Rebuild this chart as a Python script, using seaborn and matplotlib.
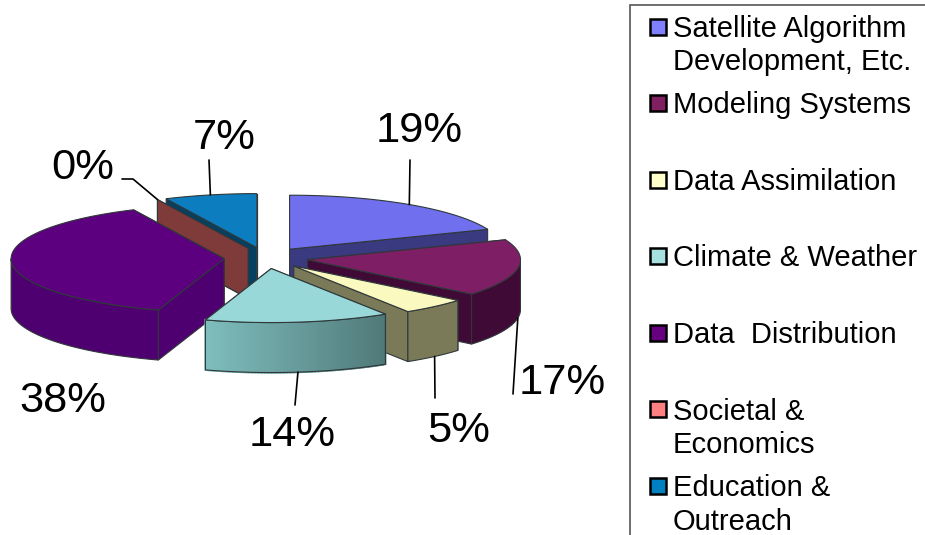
import numpy as np
import matplotlib
matplotlib.use("Agg")
import matplotlib.pyplot as plt
from matplotlib.patches import Patch, Rectangle
from matplotlib.legend_handler import HandlerPatch
from matplotlib.colors import to_rgb
import seaborn as sns

# ---- data ----
categories = ["Satellite Algorithm\nDevelopment, Etc.", "Modeling Systems\n ", "Data Assimilation\n ",
              "Climate & Weather\n ", "Data  Distribution\n ", "Societal &\nEconomics", "Education &\nOutreach"]
shares = [19, 17, 5, 14, 38, 0, 7]
pct_labels = ["19%", "17%", "5%", "14%", "38%", "0%", "7%"]

# ---- styles ----
legend_colors = ["#8080FF", "#802060", "#FFFFCC", "#A6E0E0", "#660080", "#FF8080", "#0080C0"]
top_colors = ["#7070EE", "#7E1F66", "#FAFAC0", "#98D8D8", "#5C0080", "#7F3A3A", "#0C7DBE"]
wall_colors = ["#3A3A80", "#3F0A35", "#7A7A58", "#7FBDBD", "#4E0070", "#7F3A3A", "#064060"]
rim_end_colors = ["#3A3A80", "#3F0A35", "#7A7A58", "#4F7878", "#4E0070", "#7F3A3A", "#064060"]
draw_order = [6, 5, 0, 4, 1, 2, 3]
label_pos = [(419, 131), (562, 383), (459, 431), (292, 435), (63, 401), (83, 168), (224, 138)]
leader_end = [[(410, 160)], [(513, 394)], [(435, 398)], [(295, 405)], [], [(133, 179), (122, 179)], [(209, 160)]]

CX, CY, A, B, DEPTH, EXPLODE = 266, 258, 213, 54, 50, 0.197
EDGE = "#30383A"

sns.set_theme(style="white")
plt.rcParams["font.family"] = ["Liberation Sans", "DejaVu Sans"]
palette = sns.color_palette(legend_colors)

fig = plt.figure(figsize=(9.25, 5.35), dpi=100, facecolor="white")
ax = fig.add_axes([0, 0, 1, 1])
ax.set_xlim(0, 925)
ax.set_ylim(535, 0)
ax.axis("off")

fractions = np.array(shares) / 100.0
ends = np.cumsum(fractions) * 360.0
starts = ends - fractions * 360.0


def rim(ang, ox, oy):
    r = np.radians(ang)
    return ox + A * np.sin(r), oy - B * np.cos(r)


z = 2
apexes = {}
for i in draw_order:
    mid = 0.5 * (starts[i] + ends[i])
    ox, oy = rim(mid, CX, CY)
    ox = CX + (ox - CX) * EXPLODE
    oy = CY + (oy - CY) * EXPLODE
    apexes[i] = (ox, oy)
    # cut faces, the one further back first
    for ang in sorted((starts[i], ends[i]), key=lambda a: rim(a, ox, oy)[1]):
        ex, ey = rim(ang, ox, oy)
        ax.fill([ox, ex, ex, ox], [oy, ey, ey + DEPTH, oy + DEPTH],
                facecolor=wall_colors[i], edgecolor=EDGE, lw=0.8, zorder=z)
        z += 1
    # outer wall (only the part that faces the viewer)
    lo, hi = max(starts[i], 90), min(ends[i], 270)
    if hi > lo:
        angs = np.linspace(lo, hi, 60)
        c0, c1 = np.array(to_rgb(wall_colors[i])), np.array(to_rgb(rim_end_colors[i]))
        xs, ys = rim(angs, ox, oy)
        ax.fill(np.r_[xs, xs[::-1]], np.r_[ys, ys[::-1] + DEPTH],
                facecolor=c0, edgecolor="none", zorder=z)
        z += 1
        if wall_colors[i] != rim_end_colors[i]:
            for k in range(len(angs) - 1):
                t = 1 - (k + 0.5) / (len(angs) - 1)
                col = c0 * (1 - t) + c1 * t
                ax.fill([xs[k], xs[k + 1], xs[k + 1], xs[k]],
                        [ys[k], ys[k + 1], ys[k + 1] + DEPTH, ys[k] + DEPTH],
                        facecolor=col, edgecolor=col, lw=1.5, zorder=z)
            z += 1
        ax.fill(np.r_[xs, xs[::-1]], np.r_[ys, ys[::-1] + DEPTH],
                facecolor="none", edgecolor=EDGE, lw=0.8, zorder=z)
        z += 1
    # top face
    if ends[i] > starts[i]:
        angs = np.linspace(starts[i], ends[i], 80)
        xs, ys = rim(angs, ox, oy)
        ax.fill(np.r_[ox, xs], np.r_[oy, ys], facecolor=top_colors[i],
                edgecolor=EDGE, lw=0.8, zorder=z)
        z += 1

# leader lines and percentage labels
for i, txt in enumerate(pct_labels):
    ox, oy = apexes[i]
    ang = 0.5 * (starts[i] + ends[i])
    ax_x, ax_y = rim(ang, ox, oy)
    if 90 < ang < 270:
        ax_y += DEPTH
    if leader_end[i]:
        pts = [(ax_x, ax_y)] + leader_end[i]
        ax.plot(*zip(*pts), color="black", lw=1.2, zorder=z)
    ax.text(*label_pos[i], txt, fontsize=31.3, color="black", ha="center", va="center", zorder=z + 1)
z += 2


# legend with the swatch beside the first line of each two-line entry
def first_line_swatch(legend, orig_handle, xdescent, ydescent, width, height, fontsize):
    size = 11.5
    return Rectangle((-xdescent + width - size, 15.8), size, size)


handles = [Patch(facecolor=c, edgecolor="black", linewidth=1.8) for c in palette]
leg = ax.legend(handles, categories, loc="upper left", bbox_to_anchor=(630, 5),
                bbox_transform=ax.transData, fontsize=21, frameon=True, fancybox=False,
                edgecolor="#555555", facecolor="white", framealpha=1, borderaxespad=0,
                borderpad=0.34, handlelength=0.89, handletextpad=0.23, labelspacing=0.515,
                labelcolor="black",
                handler_map={Patch: HandlerPatch(patch_func=first_line_swatch)})
leg.get_frame().set_linewidth(1.2)
leg.set_zorder(z)
for t in leg.get_texts():
    t.set_linespacing(1.25)

fig.savefig("out.png", dpi=100)
